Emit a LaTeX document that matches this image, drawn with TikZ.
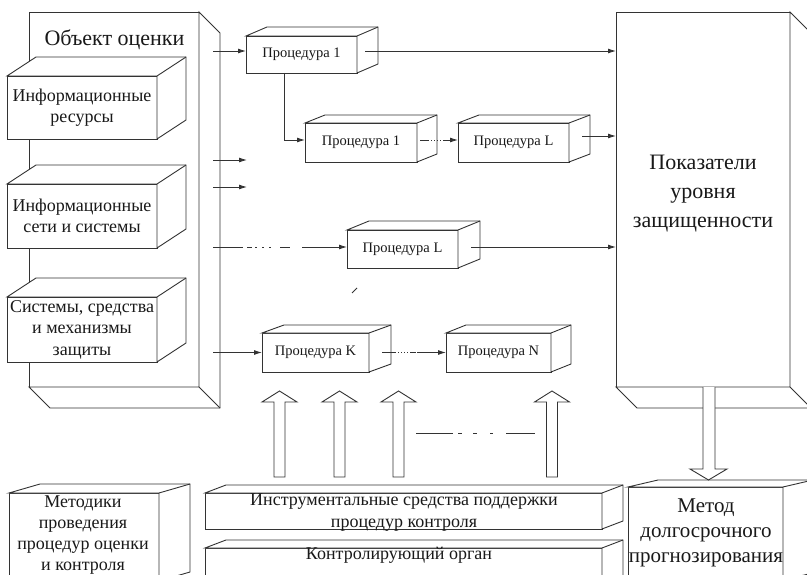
\documentclass[tikz,border=0pt]{standalone}
\usepackage{fontspec}
\setmainfont{Liberation Serif}
\usetikzlibrary{arrows.meta,calc}
\tikzset{
  ln/.style={line width=0.9pt, draw=black!80},
  face/.style={ln, fill=white, inner sep=0pt, outer sep=0pt},
  txt/.style={inner sep=0pt, align=center, text=black!90},
  fproc/.style={txt, font=\fontsize{14.5}{17}\selectfont},
  fmid/.style={txt, font=\fontsize{18}{21.5}\selectfont},
  fmet/.style={txt, font=\fontsize{18}{21}\selectfont},
  fbig/.style={txt, font=\fontsize{22}{29}\selectfont},
  fprog/.style={txt, font=\fontsize{21}{25}\selectfont},
  arr/.style={ln, -{Latex[length=8pt,width=5pt]}},
  blk/.style={ln, fill=white},
}
% cube with depth towards upper right: node, dx, dy (up)
\newcommand\cubeUR[3]{%
  \draw[ln, fill=white] (#1.north west) -- ++(#2,-#3) -- ($(#1.north east)+(#2,-#3)$)
    -- ($(#1.south east)+(#2,-#3)$) -- (#1.south east) -- (#1.north east) -- cycle;
  \draw[ln] (#1.north east) -- ++(#2,-#3);
}
% cube with depth towards lower right: node, dx, dy (down)
\newcommand\cubeDR[3]{%
  \draw[ln, fill=white] (#1.north east) -- ++(#2,#3) -- ($(#1.south east)+(#2,#3)$)
    -- ($(#1.south west)+(#2,#3)$) -- (#1.south west) -- (#1.south east) -- cycle;
  \draw[ln] (#1.south east) -- ++(#2,#3);
}
% hollow block arrow pointing up: x, y bottom, y tip
\newcommand\uparr[3]{%
  \draw[blk] ({#1-5.5},#2) -- ({#1-5.5},{#3+11}) -- ({#1-17.5},{#3+11}) -- (#1,#3)
    -- ({#1+17.5},{#3+11}) -- ({#1+5.5},{#3+11}) -- ({#1+5.5},#2) -- cycle;
}
\begin{document}
\begin{tikzpicture}[x=1pt,y=-1pt]
\useasboundingbox (0,0) rectangle (807,575);
\clip (0,0) rectangle (807,575);

% ---------- Object of evaluation ----------
\node[face, minimum width=170pt, minimum height=375pt] (obj) at (114,199.5) {};
\cubeDR{obj}{21}{21}
\node[fbig] (objt) at (114.5,40) {Объект оценки};

\node[face, minimum width=150pt, minimum height=63pt] (inf1) at (82,107.5) {};
\cubeUR{inf1}{29}{19}
\node[fmid] (inf1t) at (inf1) {Информационные\\ресурсы};

\node[face, minimum width=150pt, minimum height=64pt] (inf2) at (82,216) {};
\cubeUR{inf2}{29}{19}
\node[fmid] (inf2t) at (inf2) {Информационные\\сети и системы};

\node[face, minimum width=150pt, minimum height=65pt] (inf3) at (82,329.5) {};
\cubeUR{inf3}{29}{19}
\node[fmid] (inf3t) at (inf3) {Системы, средства\\и механизмы\\защиты};

% ---------- Indicators ----------
\node[face, minimum width=174pt, minimum height=375pt] (pok) at (703,199.5) {};
\cubeDR{pok}{21}{21}
\node[fbig] (pokt) at (703,194) {Показатели\\уровня\\защищенности};

% ---------- Procedures ----------
\node[face, minimum width=111pt, minimum height=37pt] (p1) at (301.5,54.5) {};
\cubeUR{p1}{21}{9}
\node[fproc] (p1t) at (p1) {Процедура 1};

\node[face, minimum width=112pt, minimum height=39pt] (p1b) at (361,142.5) {};
\cubeUR{p1b}{20}{8}
\node[fproc] (p1bt) at (p1b) {Процедура 1};

\node[face, minimum width=111pt, minimum height=39pt] (pL1) at (513.5,142.5) {};
\cubeUR{pL1}{21}{8}
\node[fproc] (pL1t) at (pL1) {Процедура L};

\node[face, minimum width=111pt, minimum height=38pt] (pL2) at (402.5,249) {};
\cubeUR{pL2}{22}{9}
\node[fproc] (pL2t) at (pL2) {Процедура L};

\node[face, minimum width=107pt, minimum height=39pt] (pK) at (315.5,352.5) {};
\cubeUR{pK}{22}{8}
\node[fproc] (pKt) at (pK) {Процедура K};

\node[face, minimum width=105pt, minimum height=39pt] (pN) at (498.5,352.5) {};
\cubeUR{pN}{20}{8}
\node[fproc] (pNt) at (pN) {Процедура N};

% ---------- Bottom boxes ----------
\node[face, minimum width=150pt, minimum height=88pt] (met) at (84,537) {};
\cubeUR{met}{31}{9}
\node[fmet] (mett) at (83,535.5) {Методики\\проведения\\процедур оценки\\и контроля};

\node[face, minimum width=397pt, minimum height=36pt] (instr) at (403.5,511) {};
\cubeUR{instr}{21}{8}
\node[fmid] (instrt) at (404,512.5) {Инструментальные средства поддержки\\процедур контроля};

\node[face, minimum width=397pt, minimum height=42pt] (ctrl) at (403.5,569) {};
\cubeUR{ctrl}{21}{8}
\node[fmid] (ctrlt) at (399,555) {Контролирующий орган};

\node[face, minimum width=155pt, minimum height=93pt] (prog) at (705.5,533.5) {};
\cubeUR{prog}{30}{7}
\node[fprog] (progt) at (706,533) {Метод\\долгосрочного\\прогнозирования};

% ---------- Connectors ----------
\coordinate (a1) at (213,51);
\draw[arr] (a1) -- (a1 -| p1.west);
\coordinate (p1o) at ([xshift=8pt,yshift=3.5pt]p1.east);
\draw[arr] (p1o) -- (p1o -| pok.west);

\coordinate (p1d) at ([xshift=-17.5pt]p1.south);
\coordinate (p1bi) at ([yshift=2.5pt]p1b.west);
\draw[arr] (p1d) |- (p1bi);

\coordinate (p1bo) at ([xshift=3pt,yshift=2.5pt]p1b.east);
\draw[arr, dash pattern=on 9pt off 2pt on 1pt off 2pt on 1pt off 2pt on 1pt off 2pt on 1pt off 2pt on 40pt]
  (p1bo) -- (p1bo -| pL1.west);
\coordinate (pL1o) at ([xshift=13pt,yshift=6.5pt]pL1.east);
\draw[arr] (pL1o) -- (pL1o -| pok.west);

\coordinate (a2) at (213,160);
\coordinate (b2) at (247,160);
\draw[arr] (a2) -- (b2);
\coordinate (a3) at (213,187);
\coordinate (b3) at (247,187);
\draw[arr] (a3) -- (b3);

\coordinate (a4) at (213,247);
\draw[arr, dash pattern=on 30pt off 4pt on 5pt off 3pt on 2pt off 5pt on 2pt off 5pt on 2pt off 9pt on 10pt off 12pt on 80pt]
  (a4) -- (a4 -| pL2.west);
\coordinate (pL2o) at ([xshift=13pt,yshift=2pt]pL2.east);
\draw[arr] (pL2o) -- (pL2o -| pok.west);

\draw[ln] (352,293) -- (357,288);

\coordinate (a5) at (213,352.5);
\draw[arr] (a5) -- (pK.west);
\coordinate (pKo) at ([xshift=13pt]pK.east);
\draw[arr, dash pattern=on 14pt off 2pt on 1pt off 2pt on 1pt off 2pt on 1pt off 2pt on 1pt off 2pt on 6pt off 1pt on 60pt]
  (pKo) -- (pN.west);

% hollow block arrows
\uparr{279.5}{477}{391}
\uparr{339.5}{477}{391}
\uparr{398.5}{477}{391}
\uparr{552}{477}{391}
\coordinate (d1) at (416,433);
\coordinate (d2) at (535,433);
\draw[ln, dash pattern=on 37pt off 5pt on 4pt off 11pt on 4pt off 13pt on 3pt off 13pt on 40pt] (d1) -- (d2);

\draw[blk] (pok.south -| 703,0) -- (703,469) -- (690,469) -- (708.5,480) -- (727,469) -- (715,469) -- (pok.south -| 715,0);
\end{tikzpicture}
\end{document}
